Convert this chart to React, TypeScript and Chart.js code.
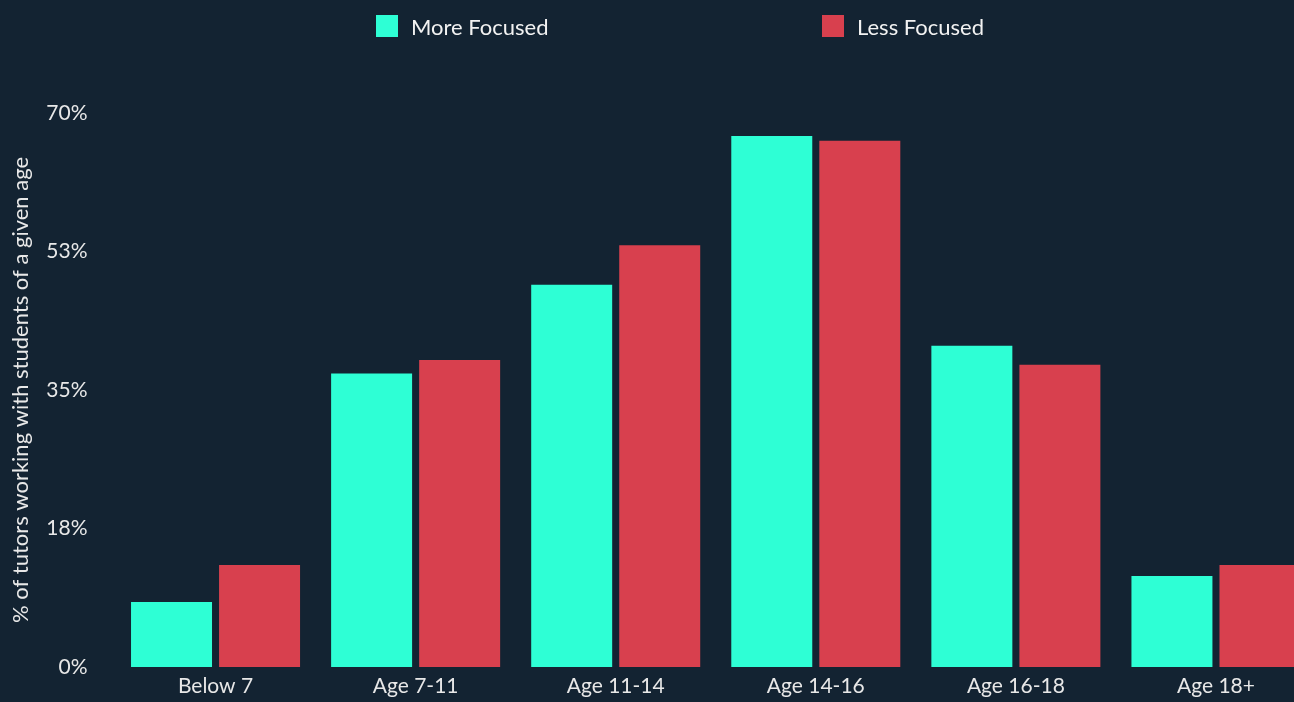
import React, { useEffect, useRef } from "react";
import { Chart, registerables } from "chart.js";

Chart.register(...registerables);

const categories = ["Below 7", "Age 7-11", "Age 11-14", "Age 14-16", "Age 16-18", "Age 18+"];
const moreFocused = [8.2, 37.1, 48.3, 67.1, 40.6, 11.5];
const lessFocused = [12.9, 38.8, 53.3, 66.5, 38.2, 12.9];
const seriesNames = ["More Focused", "Less Focused"];
const yTicks = [0, 17.5, 35, 52.5, 70];
const yTitle = "% of tutors working with students of a given age";

const BG = "#132332";
const TEAL = "#2effd5";
const RED = "#d8404e";
const TEXT = "#e8e8e8";
const FONT = "Lato";

const W = 1308;
const H = 700;

const bgPlugin = {
  id: "bgFill",
  beforeDraw(chart: any) {
    const ctx = chart.ctx;
    ctx.save();
    ctx.fillStyle = BG;
    ctx.fillRect(0, 0, chart.width, chart.height);
    ctx.restore();
  },
};

const legendPlugin = {
  id: "customLegend",
  afterDraw(chart: any) {
    const ctx = chart.ctx;
    const xs = [368, 814];
    const top = 7;
    const box = 22;
    ctx.save();
    chart.data.datasets.forEach((ds: any, i: number) => {
      ctx.fillStyle = ds.backgroundColor;
      ctx.fillRect(xs[i], top, box, box);
      ctx.fillStyle = "#f2f2f2";
      ctx.font = `22px ${FONT}`;
      ctx.textBaseline = "middle";
      ctx.textAlign = "left";
      ctx.fillText(ds.label, xs[i] + box + 13, top + box / 2 + 2);
    });
    ctx.restore();
  },
};

export default function App() {
  const ref = useRef<HTMLCanvasElement | null>(null);

  useEffect(() => {
    document.body.style.margin = "0";
    document.body.style.background = BG;
    document.documentElement.style.overflow = "hidden";
    document.documentElement.style.background = BG;
    const canvas = ref.current;
    if (!canvas) return;
    const chart = new Chart(canvas, {
      type: "bar",
      data: {
        labels: categories,
        datasets: [
          {
            label: seriesNames[0],
            data: moreFocused,
            backgroundColor: TEAL,
            categoryPercentage: 0.88,
            barPercentage: 0.92,
            clip: false,
          },
          {
            label: seriesNames[1],
            data: lessFocused,
            backgroundColor: RED,
            categoryPercentage: 0.88,
            barPercentage: 0.92,
            clip: false,
          },
        ],
      },
      options: {
        responsive: false,
        animation: false,
        devicePixelRatio: 1,
        layout: { padding: { top: 105, left: 0, right: 0, bottom: 0 } },
        plugins: {
          legend: { display: false },
          tooltip: { enabled: false },
        },
        scales: {
          x: {
            grid: { display: false, drawTicks: false },
            border: { display: false },
            ticks: {
              color: TEXT,
              font: { family: FONT, size: 21 },
              padding: 7,
              maxRotation: 0,
            },
            afterFit(s: any) {
              s.height = 41;
            },
          },
          y: {
            min: 0,
            max: 70,
            grid: { display: false, drawTicks: false },
            border: { display: false },
            afterBuildTicks(s: any) {
              s.ticks = yTicks.map((v) => ({ value: v }));
            },
            ticks: {
              color: TEXT,
              font: { family: FONT, size: 21 },
              padding: 28,
              callback: (v: any) => Math.round(Number(v)) + "%",
            },
            title: {
              display: true,
              text: yTitle,
              color: TEXT,
              font: { family: FONT, size: 22 },
              padding: 0,
            },
            afterFit(s: any) {
              s.width = 107.5;
            },
          },
        },
      },
      plugins: [bgPlugin, legendPlugin],
    });
    return () => chart.destroy();
  }, []);

  return (
    <div style={{ width: 1294, height: 702, overflow: "hidden", background: BG, position: "relative" }}>
      <canvas
        ref={ref}
        width={W}
        height={H}
        style={{ display: "block", width: W, height: H, position: "absolute", left: 8, top: 8 }}
      />
    </div>
  );
}
